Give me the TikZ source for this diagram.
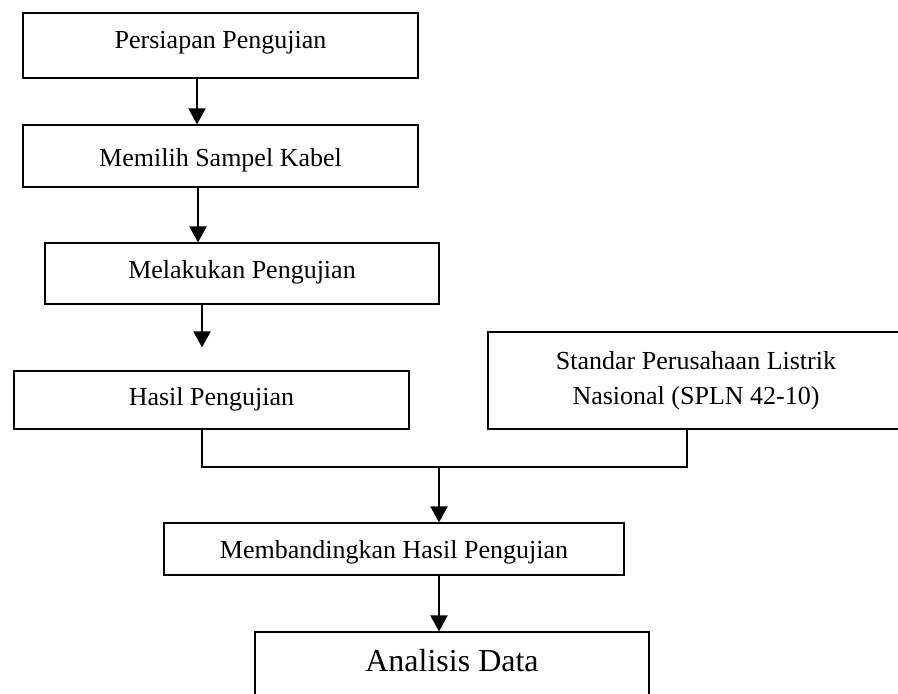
\documentclass[tikz,border=0pt]{standalone}
\usepackage{fontspec}
\setmainfont{Liberation Serif}
\usetikzlibrary{arrows.meta,positioning,calc}
\tikzset{
  fc/box/.style={draw, line width=0.6pt, inner sep=0pt, align=center, font=\fontsize{13}{17.5}\selectfont},
  fc/big/.style={fc/box, font=\fontsize{16}{19}\selectfont},
  fc/arr/.style={line width=1pt, -{Triangle[length=8pt,width=8.5pt]}},
  fc/line/.style={line width=0.6pt}
}

\begin{document}
\begin{tikzpicture}[x=0.5pt,y=-0.5pt]
  \path[use as bounding box, clip] (0,0) rectangle (898,693);

  \node[fc/box, minimum width=197.5pt, text height=17.5pt, text depth=15pt] (prep) at (220.5,45.5) {Persiapan Pengujian};
  \node[fc/box, minimum width=197.5pt, text height=20.5pt, text depth=10.5pt] (sample) at (220.5,156) {Memilih Sampel Kabel};
  \node[fc/box, minimum width=197pt, text height=17.5pt, text depth=13pt] (test) at (242,273.5) {Melakukan Pengujian};
  \node[fc/box, minimum width=197.5pt, text height=17pt, text depth=12pt] (result) at (211.5,400) {Hasil Pengujian};
  \node[fc/box, minimum width=208pt, minimum height=48.5pt] (spln) at (696,380.5) {Standar Perusahaan Listrik\\Nasional (SPLN 42-10)};
  \node[fc/box, minimum width=230pt, text height=17.5pt, text depth=8.5pt] (compare) at (394,549) {Membandingkan Hasil Pengujian};
  \node[fc/big, minimum width=197pt, text height=19.5pt, text depth=14.5pt] (analysis) at (452,666) {Analisis Data};

  % alur utama
  \draw[fc/arr] ([xshift=-11.75pt]prep.south) -- ([xshift=-11.75pt]sample.north);
  \draw[fc/arr] ([xshift=-11.25pt]sample.south) -- ([xshift=-22pt]test.north);
  \draw[fc/arr, shorten >=11.5pt] ([xshift=-20pt]test.south) -- ([xshift=-4.75pt]result.north);

  % gabungan hasil dan standar
  \coordinate (join) at (439,467);
  \draw[fc/line] ([xshift=-4.75pt]result.south) |- (join) -| ([xshift=-4.5pt]spln.south);
  \draw[fc/arr] (join) -- (join |- compare.north);
  \draw[fc/arr] (join |- compare.south) -- (join |- analysis.north);
\end{tikzpicture}
\end{document}
